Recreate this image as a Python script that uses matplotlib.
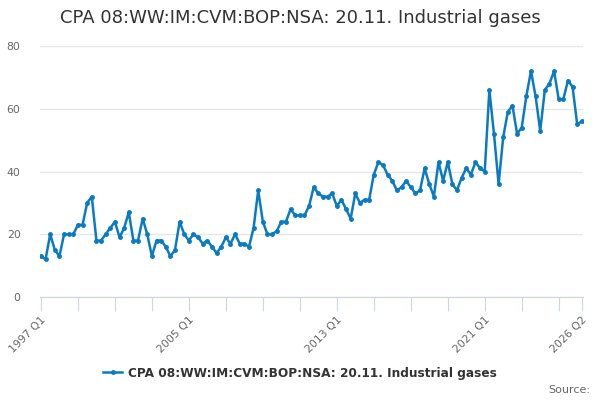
import numpy as np
import matplotlib.pyplot as plt

# quarterly index values, 1997 Q1 .. 2026 Q2
values = [13, 12, 20, 15,  13, 20, 20, 20,  23, 23, 30, 32,  18, 18, 20, 22,
          24, 19, 22, 27,  18, 18, 25, 20,  13, 18, 18, 16,  13, 15, 24, 20,
          18, 20, 19, 17,  18, 16, 14, 16,  19, 17, 20, 17,  17, 16, 22, 34,
          24, 20, 20, 21,  24, 24, 28, 26,  26, 26, 29, 35,  33, 32, 32, 33,
          29, 31, 28, 25,  33, 30, 31, 31,  39, 43, 42, 39,  37, 34, 35, 37,
          35, 33, 34, 41,  36, 32, 43, 37,  43, 36, 34, 38,  41, 39, 43, 41,
          40, 66, 52, 36,  51, 59, 61, 52,  54, 64, 72, 64,  53, 66, 68, 72,
          63, 63, 69, 67,  55, 56]
start_year = 1997
periods = ['%d Q%d' % (start_year + i // 4, i % 4 + 1) for i in range(len(values))]
label_periods = ['1997 Q1', '2005 Q1', '2013 Q1', '2021 Q1', '2026 Q2']
series_name = 'CPA 08:WW:IM:CVM:BOP:NSA: 20.11. Industrial gases'

line_color = '#0a7bc2'
x = np.arange(len(values))

fig = plt.figure(figsize=(6, 4), dpi=100)
ax = fig.add_axes([0.0667, 0.2575, 0.9053, 0.6275])

ax.plot(x, values, color=line_color, linewidth=1.8, marker='o', markersize=2.5,
        label=series_name)

ax.set_ylim(0, 80)
ax.set_xlim(-0.2, len(values) - 0.7)
ax.set_yticks([0, 20, 40, 60, 80])
ax.grid(axis='y', color='#e6e6e6', linewidth=1)
ax.set_axisbelow(True)
for s in ['top', 'right', 'left']:
    ax.spines[s].set_visible(False)
ax.spines['bottom'].set_color('#ccd6eb')
ax.spines['bottom'].set_zorder(0)

# ticks every two years plus the last period, labels only on some
tick_pos = list(range(0, len(values), 8)) + [len(values) - 1]
ax.set_xticks(tick_pos)
ax.set_xticklabels([periods[i] if periods[i] in label_periods else '' for i in tick_pos],
                   rotation=45, ha='right', rotation_mode='anchor')
ax.tick_params(axis='x', length=10, color='#ccd6eb', labelcolor='#666666', labelsize=7.8, pad=3)
ax.tick_params(axis='y', length=0, labelcolor='#666666', labelsize=7.8, pad=14)

fig.text(0.5, 0.955, series_name, ha='center', va='center', fontsize=13, color='#333333')
leg = fig.legend(loc='center', bbox_to_anchor=(0.5, 0.067), frameon=False,
                 prop={'size': 8.7, 'weight': 'bold'}, handlelength=1.6, handletextpad=0.5)
for t in leg.get_texts():
    t.set_color('#333333')
fig.text(0.983, 0.025, 'Source:', ha='right', va='center', fontsize=8, color='#666666')

fig.savefig('out.png', dpi=100)
